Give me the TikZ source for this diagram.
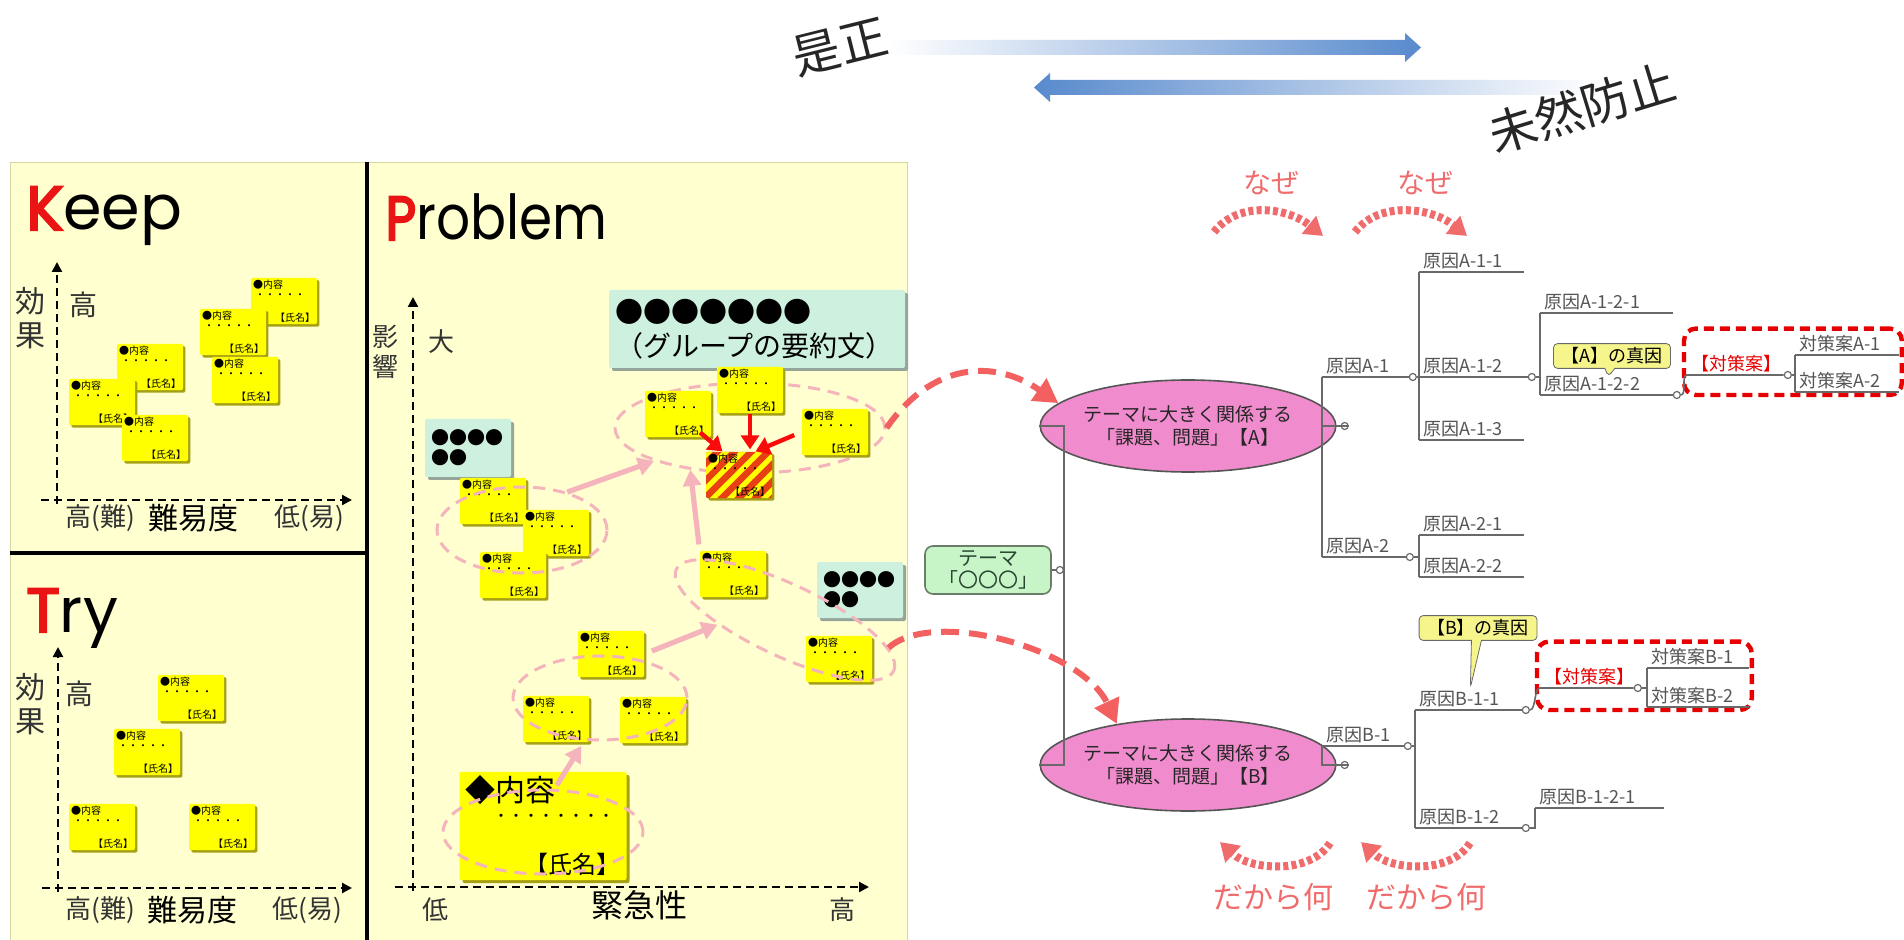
\documentclass[tikz,border=0pt]{standalone}
\usepackage{fontspec}
\setmainfont{Noto Sans CJK JP}
\newfontfamily\titlefont{Poppins}
\usepackage{xcolor}
\usepackage{tikz}
\usetikzlibrary{arrows.meta,positioning,calc,fit,shapes.geometric,shapes.callouts,shadows,patterns.meta}
\definecolor{panelbg}{RGB}{255,255,208}
\definecolor{panelline}{RGB}{214,214,160}
\definecolor{memofill}{RGB}{255,255,0}
\definecolor{memoshade}{RGB}{165,160,20}
\definecolor{stripebg}{RGB}{232,64,20}
\definecolor{sumfill}{RGB}{206,240,222}
\definecolor{sumshade}{RGB}{150,165,155}
\definecolor{grppink}{RGB}{245,180,188}
\definecolor{arrowred}{RGB}{250,10,10}
\definecolor{salmon}{RGB}{242,96,96}
\definecolor{whyred}{RGB}{240,108,108}
\definecolor{titlered}{RGB}{235,20,20}
\definecolor{issuefill}{RGB}{240,140,205}
\definecolor{issueline}{RGB}{85,85,85}
\definecolor{themefill}{RGB}{200,245,200}
\definecolor{themeline}{RGB}{105,125,105}
\definecolor{themetext}{RGB}{40,70,50}
\definecolor{treeline}{RGB}{105,105,105}
\definecolor{treetext}{RGB}{85,85,85}
\definecolor{causefill}{RGB}{245,245,140}
\definecolor{framered}{RGB}{232,0,0}
\definecolor{arrblue}{RGB}{88,138,205}
\newcommand{\memotext}{●内容\\[-1pt]\hspace*{1pt}・・・・・\\[-1pt]\null\hfill【氏名】}
\newcommand{\glowletter}[1]{\special{pdf:literal direct 2 Tr 1.1 w 0.92 0.08 0.08 RG}#1\special{pdf:literal direct 0 Tr}}
\tikzset{
  paneltitle/.style={anchor=base west, inner sep=0pt,
    font=\titlefont\fontsize{31}{31}\selectfont},
  axis/.style={dash pattern=on 4pt off 2.5pt, line width=1.1pt,
    -{Triangle[length=5pt,width=5pt]}},
  axlabel/.style={inner sep=0pt, align=center, text=black!80},
  memo/.style={fill=memofill, rounded corners=1pt, inner xsep=1pt,
    inner ysep=1pt, text width=31pt, minimum height=21pt, align=left,
    font=\fontsize{5}{6.2}\selectfont,
    drop shadow={shadow xshift=1.2pt, shadow yshift=-1.2pt, fill=memoshade, opacity=1}},
  memobig/.style={fill=memofill, rounded corners=1pt, inner xsep=3pt,
    inner ysep=2pt, text width=77.5pt, minimum height=42.5pt, align=left,
    font=\fontsize{12}{15}\selectfont,
    drop shadow={shadow xshift=1.5pt, shadow yshift=-1.5pt, fill=memoshade, opacity=1}},
  sumbox/.style={fill=sumfill, rounded corners=1pt, align=left, inner sep=3pt,
    drop shadow={shadow xshift=1.5pt, shadow yshift=-1.5pt, fill=sumshade, opacity=1}},
  grp/.style={ellipse, draw=grppink, line width=1.5pt,
    dash pattern=on 6pt off 4pt, inner sep=0pt},
  pinkarrow/.style={draw=grppink, line width=2.6pt, -{Triangle[length=8pt,width=9pt]}},
  redarrow/.style={draw=arrowred, line width=2.2pt, -{Triangle[length=7pt,width=9pt]}},
  bigdash/.style={draw=salmon, line width=3pt, dash pattern=on 9pt off 5pt,
    -{Triangle[length=12pt,width=13pt]}},
  whyarrow/.style={draw=whyred, line width=4pt, dash pattern=on 2.5pt off 1.6pt,
    -{Triangle[length=9pt,width=11pt]}},
  whylabel/.style={text=whyred, font=\fontsize{15}{15}\selectfont, inner sep=1pt},
  issue/.style={ellipse, draw=issueline, line width=0.8pt, fill=issuefill,
    minimum width=118pt, minimum height=46pt, inner sep=0pt, align=center,
    font=\fontsize{9.5}{11.5}\selectfont, text=black!85},
  theme/.style={draw=themeline, line width=0.8pt, fill=themefill,
    rounded corners=4pt, minimum width=63pt, minimum height=24pt,
    inner sep=1pt, align=center, font=\fontsize{10}{11}\selectfont, text=themetext},
  cause/.style={anchor=south west, inner xsep=2pt, inner ysep=1.5pt,
    align=left, font=\fontsize{9}{10}\selectfont, text=treetext},
  tline/.style={draw=treeline, line width=0.8pt},
  junc/.style={circle, draw=treeline, fill=white, line width=0.6pt,
    inner sep=0pt, minimum size=3.5pt},
  truecause/.style={rectangle callout, draw=treeline, fill=causefill,
    rounded corners=2pt, inner xsep=4pt, inner ysep=2pt,
    font=\fontsize{9}{10}\selectfont, callout pointer width=5pt},
  redframe/.style={draw=framered, line width=2.2pt, dash pattern=on 5pt off 3pt,
    rounded corners=6pt, inner sep=1.5pt}
}
\begin{document}
\begin{tikzpicture}[x=0.5pt, y=-0.5pt]
  \useasboundingbox (0,0) rectangle (1904,940);
  \fill[white] (0,0) rectangle (1904,940);

  % top: correction / prevention
  \shade[left color=white, right color=arrblue] (889,40) -- (1405,40) -- (1405,33)
    -- (1421,47.5) -- (1405,62) -- (1405,55) -- (889,55) -- cycle;
  \shade[left color=arrblue, right color=white] (1034,87.5) -- (1050,73) -- (1050,80)
    -- (1600,80) -- (1600,95) -- (1050,95) -- (1050,102) -- cycle;
  \node[font=\fontsize{24}{24}\selectfont, text=black!85, rotate=14] (zesei) at (840,47) {是正};
  \node[font=\fontsize{24}{24}\selectfont, text=black!85, rotate=17] (mizen) at (1582,108) {未然防止};

  % KPT panel
  \fill[panelbg, draw=panelline] (10,162) rectangle (907,940);
  \draw[line width=2pt] (367,162) -- (367,940);
  \draw[line width=2pt] (10,553) -- (367,553);

  \node[paneltitle] (keepT) at (26,230) {{\color{titlered}\glowletter{K}}eep};
  \node[paneltitle] (tryT) at (26,632) {{\color{titlered}\glowletter{T}}ry};
  \node[paneltitle, xscale=0.86] (probT) at (385,240) {{\color{titlered}\glowletter{P}}roblem};

  % axes
  \coordinate (kO) at (57,500);
  \coordinate (kX) at (352,500);
  \coordinate (kY) at (57,262);
  \draw[axis] ([xshift=-8pt]kO) -- (kX);
  \draw[axis] ([yshift=-2pt]kO) -- (kY);
  \coordinate (tO) at (58,888);
  \coordinate (tX) at (352,888);
  \coordinate (tY) at (58,647);
  \draw[axis] ([xshift=-8pt]tO) -- (tX);
  \draw[axis] ([yshift=-2pt]tO) -- (tY);
  \coordinate (pO) at (413,887);
  \coordinate (pX) at (869,887);
  \coordinate (pY) at (413,297);
  \draw[axis] ([xshift=-9pt]pO) -- (pX);
  \draw[axis] ([yshift=-2pt]pO) -- (pY);

  \node[axlabel, font=\fontsize{15}{17}\selectfont] (kEff) at (30,318) {効\\果};
  \node[axlabel, font=\fontsize{14}{14}\selectfont] (kHigh) at (83,305) {高};
  \node[axlabel, font=\fontsize{13}{13}\selectfont] (kHard) at (100,518) {高(難)};
  \node[axlabel, font=\fontsize{15}{15}\selectfont, text=black] (kDiff) at (193,518) {難易度};
  \node[axlabel, font=\fontsize{13}{13}\selectfont] (kEasy) at (309,518) {低(易)};
  \node[axlabel, font=\fontsize{15}{17}\selectfont] (tEff) at (30,704) {効\\果};
  \node[axlabel, font=\fontsize{14}{14}\selectfont] (tHigh) at (79,694) {高};
  \node[axlabel, font=\fontsize{13}{13}\selectfont] (tHard) at (100,910) {高(難)};
  \node[axlabel, font=\fontsize{15}{15}\selectfont, text=black] (tDiff) at (192,910) {難易度};
  \node[axlabel, font=\fontsize{13}{13}\selectfont] (tEasy) at (307,910) {低(易)};
  \node[axlabel, font=\fontsize{13}{15}\selectfont] (pImp) at (385,352) {影\\響};
  \node[axlabel, font=\fontsize{13}{13}\selectfont] (pBig) at (441,342) {大};
  \node[axlabel, font=\fontsize{13}{13}\selectfont] (pLow) at (435,910) {低};
  \node[axlabel, font=\fontsize{16}{16}\selectfont, text=black] (pUrg) at (639,905) {緊急性};
  \node[axlabel, font=\fontsize{13}{13}\selectfont] (pHigh) at (842,910) {高};

  % keep / try notes
  \foreach \n/\x/\y in {k1/284/301, k2/233/332, k4/150/367, k3/245/380,
      k5/102/402, k6/155/438, t1/191/698, t2/147/752, t3/102/827, t4/222/827}
    \node[memo] (\n) at (\x,\y) {\memotext};

  % problem area
  \node[grp, minimum width=135pt, minimum height=45pt] (gTop) at (750,428) {};
  \node[sumbox, text width=142pt, minimum height=39pt,
    font=\fontsize{14}{17}\selectfont] (sumTop) at (757,329) {●●●●●●●\\（グループの要約文）};
  \node[sumbox, text width=37pt, minimum height=29pt,
    font=\fontsize{9}{10}\selectfont] (sumL) at (468,448) {●●●●\\●●};
  \node[sumbox, text width=37pt, minimum height=28pt,
    font=\fontsize{9}{10}\selectfont] (sumR) at (860,590) {●●●●\\●●};
  \foreach \n/\x/\y in {pa/678/414, pb/750/390, pc/835/432, pe/493/501,
      pf/556/533, pg/513/575, ph/733/574, pi/611/654, pj/839/659,
      pk/556/719, pl/653/720}
    \node[memo] (\n) at (\x,\y) {\memotext};
  \node[memo, fill=stripebg, postaction={pattern={Lines[angle=45,distance=6pt,line width=2.6pt]},
    pattern color=memofill}] (pd) at (739,475) {\memotext};
  \node[memobig] (pm) at (543,826) {{\fontsize{15}{15}\selectfont ◆内容}\\[-5pt]%
    {\fontsize{7.5}{8}\selectfont\hspace*{14pt}・・・・・・・・}\\[-4pt]\null\hfill【氏名】};

  \node[grp, minimum width=85pt, minimum height=43pt] (gLeft) at (522,530) {};
  \node[grp, minimum width=120pt, minimum height=36pt, rotate=-25] (gRight) at (785,620) {};
  \node[grp, minimum width=87pt, minimum height=42pt] (gMid) at (600,698) {};
  \node[grp, minimum width=100pt, minimum height=42pt] (gBase) at (543,832) {};

  \draw[pinkarrow] (gLeft.40) -- (gTop.199);
  \draw[pinkarrow, shorten <=3pt] (ph.north west) -- (gTop.215);
  \draw[pinkarrow, shorten <=4pt] (pi.east) -- (gRight.209);
  \draw[pinkarrow, shorten <=2pt, shorten >=3pt] (gBase.75) -- (gMid.250);

  \draw[redarrow, shorten <=-4pt] (pa.-40) -- (pd.125);
  \draw[redarrow, shorten >=1pt] (pb.south) -- (pb.south |- pd.north);
  \draw[redarrow, shorten <=4pt] (pc.west) -- (pd.55);

  % theme tree
  \node[issue] (ellA) at (1188,426) {テーマに大きく関係する\\「課題、問題」【A】};
  \node[issue] (ellB) at (1188,765) {テーマに大きく関係する\\「課題、問題」【B】};
  \node[theme] (theme) at (988,570) {テーマ\\「〇〇〇」};
  \node[junc, right=2pt of theme] (jTheme) {};
  \node[junc, right=2pt of ellA] (jA) {};
  \node[junc, right=2pt of ellB] (jB) {};
  \draw[tline] (theme.east) -- (jTheme.west);
  \draw[tline] (ellA.west) -| (jTheme.east);
  \draw[tline] (jTheme.east) |- (ellB.west);
  \draw[tline] (ellA.east) -- (jA.west);
  \draw[tline] (ellB.east) -- (jB.west);

  \draw[bigdash] (gTop.east) .. controls +(45,-65) and +(-65,-45) .. (ellA.170);
  \draw[bigdash] (gRight.10) .. controls +(45,-40) and +(-35,-75) .. (ellB.150);

  % branch A
  \node[cause, text width=41pt] (cA1) at (1322,377) {原因A-1};
  \node[cause, text width=39.5pt] (cA2) at (1322,557) {原因A-2};
  \node[junc] (jA1) at (cA1.south east) {};
  \node[junc] (jA2) at (cA2.south east) {};
  \node[cause, text width=48pt] (cA11) at (1419,272) {原因A-1-1};
  \node[cause, text width=52pt] (cA12) at (1419,377) {原因A-1-2};
  \node[cause, text width=48pt] (cA13) at (1419,440) {原因A-1-3};
  \node[junc] (jA12) at (cA12.south east) {};
  \node[cause, text width=48pt] (cA21) at (1419,535) {原因A-2-1};
  \node[cause, text width=48pt] (cA22) at (1419,577) {原因A-2-2};
  \node[cause, text width=62pt] (cA121) at (1540,313) {原因A-1-2-1};
  \node[cause, text width=64pt] (cA122) at (1540,395) {原因A-1-2-2};
  \node[junc] (jA122) at (cA122.south east) {};
  \node[cause, text width=46pt, text=framered] (taA) at (1687,375) {【対策案】};
  \node[junc] (jTA) at (taA.south east) {};
  \node[cause, text width=47.5pt] (cTA1) at (1795,355) {対策案A-1};
  \node[cause, text width=47.5pt] (cTA2) at (1795,392) {対策案A-2};
  \node[redframe, fit=(taA)(cTA1)(cTA2)] (frameA) {};
  \node[truecause, callout absolute pointer={([yshift=-2pt]cA122.north)}] (whyA) at (1612,356) {【A】の真因};

  % branch B
  \node[cause, text width=38.5pt] (cB1) at (1322,746) {原因B-1};
  \node[junc] (jB1) at (cB1.south east) {};
  \node[cause, text width=51pt] (cB11) at (1415,710) {原因B-1-1};
  \node[cause, text width=51pt] (cB12) at (1415,828) {原因B-1-2};
  \node[junc] (jB11) at (cB11.south east) {};
  \node[junc] (jB12) at (cB12.south east) {};
  \node[cause, text width=60pt] (cB121) at (1535,808) {原因B-1-2-1};
  \node[cause, text width=44.5pt, text=framered] (taB) at (1540,688) {【対策案】};
  \node[junc] (jTB) at (taB.south east) {};
  \node[cause, text width=46.5pt] (cTB1) at (1647,668) {対策案B-1};
  \node[cause, text width=46.5pt] (cTB2) at (1647,707) {対策案B-2};
  \node[redframe, fit=(taB)(cTB1)(cTB2)] (frameB) {};
  \node[truecause, callout absolute pointer={(cB11.north)}] (whyB) at (1478,628) {【B】の真因};

  % tree lines
  \draw[tline] (cA1.south west) |- (jA.east);
  \draw[tline] (cA2.south west) |- (jA.east);
  \draw[tline] (cA1.south west) -- (jA1.west);
  \draw[tline] (cA2.south west) -- (jA2.west);
  \draw[tline] (cA11.south west) |- (jA1.east);
  \draw[tline] (cA13.south west) |- (jA1.east);
  \draw[tline] (jA1.east) -- (jA12.west);
  \draw[tline] (cA21.south west) |- (jA2.east);
  \draw[tline] (cA22.south west) |- (jA2.east);
  \draw[tline] (cA121.south west) |- (jA12.east);
  \draw[tline] (cA122.south west) -- (jA122.west);
  \draw[tline] (cA122.south west) |- (jA12.east);
  \draw[tline] (jA122.east) .. controls +(6,0) and +(-6,0) .. (taA.south west) -- (jTA.west);
  \draw[tline] (cTA1.south west) |- (jTA.east);
  \draw[tline] (cTA2.south west) |- (jTA.east);
  \draw[tline] (cB1.south west) |- (jB.east);
  \draw[tline] (cB1.south west) -- (jB1.west);
  \draw[tline] (cB11.south west) |- (jB1.east);
  \draw[tline] (cB12.south west) |- (jB1.east);
  \draw[tline] (cB11.south west) -- (jB11.west);
  \draw[tline] (cB12.south west) -- (jB12.west);
  \draw[tline] (cB121.south west) |- (jB12.east);
  \draw[tline] (jB11.east) .. controls +(6,0) and +(-6,0) .. (taB.south west) -- (jTB.west);
  \draw[tline] (cTB1.south west) |- (jTB.east);
  \draw[tline] (cTB2.south west) |- (jTB.east);
  \foreach \n in {cA11,cA13,cA21,cA22,cA121,cTA1,cTA2,cB121,cTB1,cTB2}
    \draw[tline] (\n.south west) -- (\n.south east);

  % why / so what
  \node[whylabel, font=\fontsize{14}{14}\selectfont] (why1) at (1271,183) {なぜ};
  \node[whylabel, font=\fontsize{14}{14}\selectfont] (why2) at (1425,183) {なぜ};
  \node[whylabel] (so1) at (1273,897) {だから何};
  \node[whylabel] (so2) at (1426,897) {だから何};
  \coordinate (w1a) at (1214,232);
  \coordinate (w1b) at (1323,236);
  \coordinate (w2a) at (1355,232);
  \coordinate (w2b) at (1467,236);
  \coordinate (s1a) at (1330,843);
  \coordinate (s1b) at (1220,842);
  \coordinate (s2a) at (1470,843);
  \coordinate (s2b) at (1361,842);
  \draw[whyarrow] (w1a) .. controls +(25,-32) and +(-35,-28) .. (w1b);
  \draw[whyarrow] (w2a) .. controls +(25,-32) and +(-35,-28) .. (w2b);
  \draw[whyarrow] (s1a) .. controls +(-20,32) and +(30,28) .. (s1b);
  \draw[whyarrow] (s2a) .. controls +(-20,32) and +(30,28) .. (s2b);
\end{tikzpicture}
\end{document}
